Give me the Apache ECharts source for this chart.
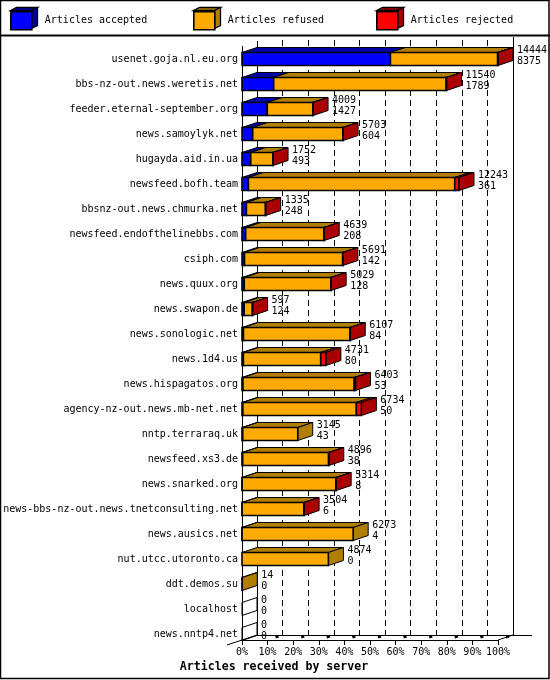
<!DOCTYPE html>
<html>
<head>
<meta charset="utf-8">
<style>html,body{margin:0;padding:0;background:#fff}#c{width:550px;height:680px}</style>
<script src="https://cdn.jsdelivr.net/npm/echarts@6/dist/echarts.min.js"></script>
</head>
<body>
<div id="c"></div>
<script>
const servers = ['usenet.goja.nl.eu.org','bbs-nz-out.news.weretis.net','feeder.eternal-september.org','news.samoylyk.net','hugayda.aid.in.ua','newsfeed.bofh.team','bbsnz-out.news.chmurka.net','newsfeed.endofthelinebbs.com','csiph.com','news.quux.org','news.swapon.de','news.sonologic.net','news.1d4.us','news.hispagatos.org','agency-nz-out.news.mb-net.net','nntp.terraraq.uk','newsfeed.xs3.de','news.snarked.org','news-bbs-nz-out.news.tnetconsulting.net','news.ausics.net','nut.utcc.utoronto.ca','ddt.demos.su','localhost','news.nntp4.net'];
const totals = [14444,11540,4009,5703,1752,12243,1335,4639,5691,5029,597,6107,4731,6403,6734,3145,4896,5314,3504,6273,4874,14,0,0];
const accepted = [8375,1789,1427,604,493,361,248,208,142,128,124,84,80,53,50,43,38,8,6,4,0,0,0,0];
const rejected = [20,20,15,15,10,240,10,10,10,10,10,10,290,70,280,0,10,10,10,0,0,0,0,0];
const percentTicks = [0,10,20,30,40,50,60,70,80,90,100];

const MAX = 14444, DX = 15, DY = 5, HALF = 6.5;
const FONT = '"DejaVu Sans Mono", monospace';
const pct = v => v * 100 / MAX;
const shade = {'#0000ff':'#0000aa','#ffaa00':'#b07f00','#ff0000':'#aa0000'};

function poly(points, fill, w) {
  return {type:'polygon', shape:{points}, style:{fill:fill, stroke:'#000', lineWidth:w||1}};
}
function segmentSeries(name, color, rows) {
  return {
    name, type:'custom', xAxisIndex:0, yAxisIndex:0, clip:false, z:5,
    itemStyle:{color},
    encode:{x:[1,2], y:0},
    data: rows,
    renderItem(params, api) {
      const i = api.value(0), a = api.value(1), b = api.value(2), isLast = api.value(3);
      const p0 = api.coord([a,i]), p1 = api.coord([b,i]);
      const x0 = p0[0], x1 = p1[0], t = p0[1]-HALF, u = p0[1]+HALF;
      const kids = [];
      if (b > a) kids.push(poly([[x0,t],[x0+DX,t-DY],[x1+DX,t-DY],[x1,t]], shade[color]));
      if (isLast === 1) kids.push(poly([[x1,t],[x1+DX,t-DY],[x1+DX,u-DY],[x1,u]], shade[color]));
      if (isLast === 2) kids.push(poly([[x1,t],[x1+DX,t-DY],[x1+DX,u-DY],[x1,u]], 'rgba(0,0,0,0)'));
      if (b > a) kids.push(poly([[x0,t],[x1,t],[x1,u],[x0,u]], color, 1.6));
      return {type:'group', children:kids};
    }
  };
}
const rowsA = [], rowsF = [], rowsR = [];
servers.forEach((s,i)=>{
  const acc = accepted[i], rej = rejected[i], ref = totals[i]-acc-rej;
  const last = rej>0 ? 'r' : ref>0 ? 'f' : acc>0 ? 'a' : 'n';
  rowsA.push([i, 0, pct(acc), last==='a'?1:(last==='n'?2:0)]);
  rowsF.push([i, pct(acc), pct(acc+ref), last==='f'?1:0]);
  rowsR.push([i, pct(acc+ref), pct(acc+ref+rej), last==='r'?1:0]);
});

const valueLabels = {
  type:'custom', xAxisIndex:0, yAxisIndex:0, clip:false, z:8, silent:true,
  encode:{x:1, y:0},
  data: servers.map((s,i)=>[i, pct(totals[i]), totals[i], accepted[i]]),
  renderItem(params, api) {
    const p = api.coord([api.value(1), api.value(0)]);
    const mk = (txt,y)=>({type:'text', style:{text:String(txt), x:p[0]+DX+4, y:y, font:'10px '+FONT, fill:'#000', textAlign:'left', textVerticalAlign:'middle'}});
    return {type:'group', children:[mk(api.value(2),p[1]-9), mk(api.value(3),p[1]+2)]};
  }
};
const frame = {
  type:'custom', xAxisIndex:0, yAxisIndex:0, clip:false, z:3, silent:true,
  encode:{x:0, y:1},
  data:[[0,0]],
  renderItem(params, api) {
    const first = api.coord([0,0]), lastRow = api.coord([0,servers.length-1]), end = api.coord([100,0]);
    const xL = first[0], xR = end[0], yF = lastRow[1]+6, yTop = first[1]-13;
    const ln = (a,b,c,d,w)=>({type:'line', shape:{x1:a,y1:b,x2:c,y2:d}, style:{stroke:'#000', lineWidth:w||1, fill:null}});
    const kids = [
      ln(xL+0.5,yTop,xL+0.5,yF),
      ln(xL+DX+0.5,yTop-DY,xL+DX+0.5,yF-DY),
      ln(xR+DX+0.5,yTop-9,xR+DX+0.5,yF-DY),
      ln(xL-DX,yF+DY,xL+DX,yF-DY),
      ln(xR,yF,xR+DX,yF-DY),
      ln(xL+DX,yF-DY+0.5,xR+DX+19,yF-DY+0.5)
    ];
    percentTicks.slice(1).forEach(v=>{
      const x = api.coord([v,0])[0];
      kids.push(ln(x+8,yF-DY*8/15,x+11,yF-DY*11/15,2.5));
    });
    return {type:'group', children:kids};
  }
};

function cube(x, color) {
  const t=10.5,u=28.5,w=21,dx=6,dy=3;
  return [
    {type:'polygon', shape:{points:[[x,t],[x+dx,t-dy],[x+w+dx,t-dy],[x+w,t]]}, style:{fill:shade[color],stroke:'#000',lineWidth:1.3}},
    {type:'polygon', shape:{points:[[x+w,t],[x+w+dx,t-dy],[x+w+dx,u-dy],[x+w,u]]}, style:{fill:shade[color],stroke:'#000',lineWidth:1.3}}
  ];
}
function legendAt(left, name) {
  return {left, top:11, padding:0, itemWidth:21, itemHeight:18, icon:'rect', selectedMode:false,
    data:[name], itemStyle:{borderColor:'#000', borderWidth:1.6},
    textStyle:{fontFamily:FONT, fontSize:10, color:'#000', padding:[0,0,0,8]}};
}

const chart = echarts.init(document.getElementById('c'), null, {renderer:'canvas', width:550, height:680});
chart.setOption({
  animation:false,
  backgroundColor:'#fff',
  title:{text:'Articles received by server', left:274, top:661, textAlign:'center', padding:0,
    textStyle:{fontFamily:FONT, fontSize:11.6, fontWeight:'bold', color:'#000'}},
  legend:[legendAt(10,'Articles accepted'), legendAt(193,'Articles refused'), legendAt(376,'Articles rejected')],
  grid:[
    {left:242, top:46.5, width:256, height:600, containLabel:false},
    {left:257, top:40, width:256, height:595, containLabel:false}
  ],
  xAxis:[
    {type:'value', gridIndex:0, min:0, max:100, interval:10, position:'bottom', offset:-6.5,
      axisLine:{show:true, onZero:false, lineStyle:{color:'#000',width:1}},
      axisTick:{show:true, length:5, lineStyle:{color:'#000',width:1}},
      splitLine:{show:false},
      axisLabel:{formatter:'{value}%', fontFamily:FONT, fontSize:10, color:'#000', margin:7, hideOverlap:false, showMinLabel:true, showMaxLabel:true}},
    {type:'value', gridIndex:1, min:0, max:100, interval:10,
      axisLine:{show:false}, axisTick:{show:false}, axisLabel:{show:false},
      splitLine:{show:true, showMinLine:false, showMaxLine:false, lineStyle:{color:'#000', width:1, type:[6,4]}}}
  ],
  yAxis:[
    {type:'category', gridIndex:0, inverse:true, data:servers,
      axisLine:{show:false}, axisTick:{show:false}, splitLine:{show:false},
      axisLabel:{interval:0, fontFamily:FONT, fontSize:10, color:'#000', margin:4, align:'right'}},
    {type:'value', gridIndex:1, min:0, max:1, axisLine:{show:false}, axisTick:{show:false}, axisLabel:{show:false}, splitLine:{show:false}}
  ],
  series:[
    frame,
    segmentSeries('Articles accepted','#0000ff',rowsA),
    segmentSeries('Articles refused','#ffaa00',rowsF),
    segmentSeries('Articles rejected','#ff0000',rowsR),
    valueLabels
  ],
  graphic:{elements:[
    {type:'group', silent:true, z:10, children:[
      ...cube(10.5,'#0000ff'), ...cube(193.5,'#ffaa00'), ...cube(376.5,'#ff0000'),
      {type:'line', shape:{x1:0,y1:35.5,x2:550,y2:35.5}, style:{stroke:'#000',lineWidth:2}},
      {type:'rect', shape:{x:0.5,y:0.5,width:548.5,height:678}, style:{fill:null,stroke:'#000',lineWidth:1.5}}
    ]}
  ]}
});
</script>
</body>
</html>
